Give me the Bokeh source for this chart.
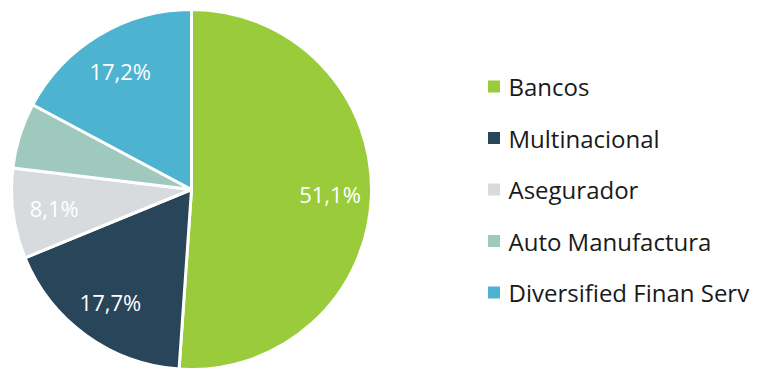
import numpy as np
from bokeh.plotting import figure
from bokeh.models import ColumnDataSource, Range1d
from bokeh.core.properties import value
from bokeh.embed import file_html
from bokeh.resources import INLINE

categories = ["Bancos", "Multinacional", "Asegurador", "Auto Manufactura", "Diversified Finan Serv"]
shares = [51.1, 17.7, 8.1, 5.9, 17.2]
labels = ["51,1%", "17,7%", "8,1%", "", "17,2%"]
colors = ["#9ACB3A", "#28455A", "#D8DBDE", "#A0C9BE", "#4DB3D0"]

W, H = 766, 368
cx, cy, R = 191, H - 189, 180

vals = np.array(shares, dtype=float)
frac = vals / vals.sum()
# clockwise from 12 o'clock
start_cw = np.pi / 2 - 2 * np.pi * np.concatenate([[0], np.cumsum(frac)[:-1]])
end_cw = start_cw - 2 * np.pi * frac
mid = (start_cw + end_cw) / 2
lr = 0.77 * R

src = ColumnDataSource(dict(
    cat=categories, start=end_cw, end=start_cw, color=colors,
    lx=cx + lr * np.cos(mid), ly=cy + lr * np.sin(mid), lab=labels,
))

p = figure(width=W, height=H, output_backend="svg", toolbar_location=None,
           x_range=Range1d(0, W), y_range=Range1d(0, H), min_border=0)
p.axis.visible = False
p.grid.visible = False
p.outline_line_color = None
p.background_fill_color = "white"

p.wedge(x=cx, y=cy, radius=R, start_angle="start", end_angle="end",
        fill_color="color", line_color="white", line_width=3, source=src)
p.text(x="lx", y="ly", text="lab", source=src, text_color="white",
       text_font=value("Open Sans"), text_font_size="22px",
       text_align="center", text_baseline="middle")

# legend
n = len(categories)
step = 51.5
ly = cy + step * ((n - 1) / 2 - np.arange(n))
leg = ColumnDataSource(dict(x=[493.5] * n, tx=[508] * n, y=ly, color=colors, cat=categories))
p.scatter(x="x", y="y", marker="square", size=12, fill_color="color", line_color=None, source=leg)
p.text(x="tx", y="y", text="cat", source=leg, text_color="#1a1a1a",
       text_font=value("Open Sans"), text_font_size="24px",
       text_align="left", text_baseline="middle")

open("out.html", "w").write(file_html(p, INLINE))
